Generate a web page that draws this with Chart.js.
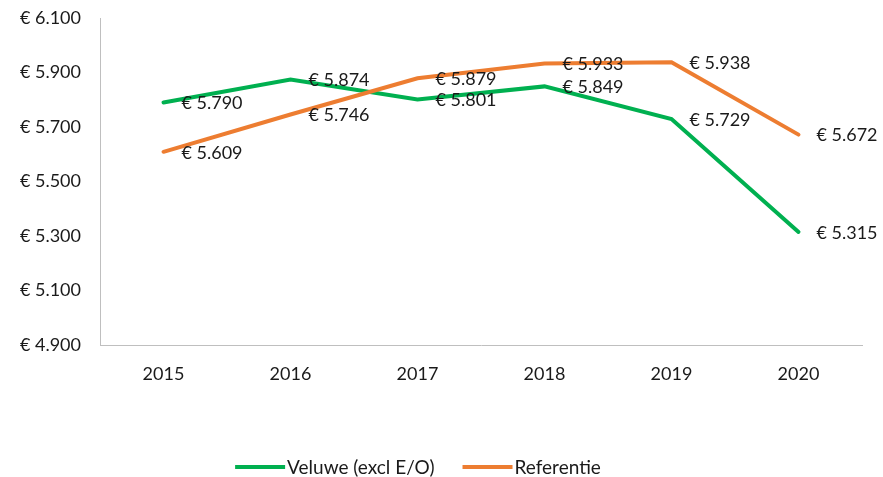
<!DOCTYPE html>
<html>
<head>
<meta charset="utf-8">
<script src="https://cdn.jsdelivr.net/npm/chart.js@4/dist/chart.umd.min.js"></script>
<style>
  html, body { margin: 0; padding: 0; background: #fff; }
  #wrap { width: 883px; height: 477px; }
</style>
</head>
<body>
<div id="wrap"><canvas id="cost-chart"></canvas></div>
<script>
const years = ['2015', '2016', '2017', '2018', '2019', '2020'];
const veluwe = [5790, 5874, 5801, 5849, 5729, 5315];
const referentie = [5609, 5746, 5879, 5933, 5938, 5672];
const yTicks = [4900, 5100, 5300, 5500, 5700, 5900, 6100];

const FONT = 'Lato, "Open Sans", sans-serif';
const TEXT = '#1a1a1a';

function euro(v) {
  return '€ ' + String(v).replace(/\B(?=(\d{3})+(?!\d))/g, '.');
}

// labels to the right of every point
const valueLabels = {
  id: 'valueLabels',
  afterDatasetsDraw(chart) {
    const ctx = chart.ctx;
    ctx.save();
    ctx.font = '18px ' + FONT;
    ctx.fillStyle = TEXT;
    ctx.textAlign = 'left';
    ctx.textBaseline = 'middle';
    chart.data.datasets.forEach((ds, i) => {
      chart.getDatasetMeta(i).data.forEach((pt, j) => {
        ctx.fillText(euro(ds.data[j]), pt.x + 18, pt.y + 1);
      });
    });
    ctx.restore();
  }
};

// legend at the bottom, excel style (line swatch right against the text)
const bottomLegend = {
  id: 'bottomLegend',
  afterDraw(chart) {
    const ctx = chart.ctx;
    const swatch = 50, gap = 2, between = 28, y = 467, centre = 418;
    ctx.save();
    ctx.font = '19px ' + FONT;
    const items = chart.data.datasets.map(ds => ({
      text: ds.label, color: ds.borderColor, w: ctx.measureText(ds.label).width
    }));
    let total = items.reduce((s, it) => s + swatch + gap + it.w, 0) + between * (items.length - 1);
    let x = centre - total / 2;
    items.forEach(it => {
      ctx.strokeStyle = it.color;
      ctx.lineWidth = 4;
      ctx.beginPath();
      ctx.moveTo(x, y);
      ctx.lineTo(x + swatch, y);
      ctx.stroke();
      ctx.fillStyle = TEXT;
      ctx.textAlign = 'left';
      ctx.textBaseline = 'middle';
      ctx.fillText(it.text, x + swatch + gap, y + 1);
      x += swatch + gap + it.w + between;
    });
    ctx.restore();
  }
};

const costChart = new Chart('cost-chart', {
  type: 'line',
  data: {
    labels: years,
    datasets: [{
      label: 'Veluwe (excl E/O)',
      data: veluwe,
      borderColor: '#00b050',
      backgroundColor: '#00b050',
      borderWidth: 4,
      pointRadius: 0,
      borderCapStyle: 'round',
      order: 2,
    }, {
      label: 'Referentie',
      data: referentie,
      borderColor: '#ed7d31',
      backgroundColor: '#ed7d31',
      borderWidth: 4,
      pointRadius: 0,
      borderCapStyle: 'round',
      order: 1,
    }],
  },
  options: {
    responsive: true,
    maintainAspectRatio: false,
    animation: false,
    layout: {
      padding: { left: 0, top: 18, right: 21, bottom: 0 },
    },
    scales: {
      x: {
        offset: true,
        grid: { display: false, drawTicks: false },
        border: { display: true, color: '#bfbfbf', width: 1 },
        ticks: { color: TEXT, font: { family: FONT, size: 18 }, padding: 18 },
        afterFit(scale) { scale.height = 132; },
      },
      y: {
        min: yTicks[0],
        max: yTicks[yTicks.length - 1],
        afterBuildTicks(scale) { scale.ticks = yTicks.map(v => ({ value: v })); },
        grid: { display: false, drawTicks: false },
        border: { display: true, color: '#bfbfbf', width: 1 },
        ticks: {
          color: TEXT,
          font: { family: FONT, size: 18 },
          padding: 19,
          callback: (v) => euro(v),
        },
        afterFit(scale) {
          scale.width = 100;
          scale.paddingTop = 0;
          scale.paddingBottom = 0;
        },
      },
    },
    plugins: {
      legend: { display: false },
      tooltip: { enabled: false },
    },
  },
  plugins: [valueLabels, bottomLegend],
});
</script>
</body>
</html>
